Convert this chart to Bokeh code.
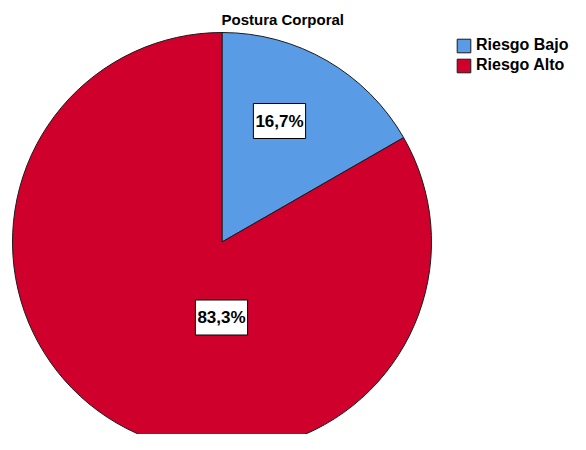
import math
import numpy as np
from bokeh.plotting import figure
from bokeh.models import Range1d, ColumnDataSource, Label, Legend, LegendItem
from bokeh.embed import file_html
from bokeh.resources import INLINE

# ---- data ----
categories = ["Riesgo Bajo", "Riesgo Alto"]
percentages = [16.7, 83.3]
label_texts = ["16,7%", "83,3%"]
colors = ["#5A9BE6", "#D0002C"]

# ---- layout (pixels) ----
W, H = 570, 434
TITLE_H = 30                # height of band above frame (holds the title)
R = 209.5                   # pie radius in px
CX, CY = 221.5, 241.5       # pie centre in figure px (from top-left)
FONT = "Liberation Sans"

frame_h = H - TITLE_H
top_dist = CY - TITLE_H
x_rng = Range1d(-CX, W - CX)
y_rng = Range1d(-(frame_h - top_dist), top_dist)

p = figure(width=W, height=H, x_range=x_rng, y_range=y_rng,
           output_backend="svg", toolbar_location=None,
           min_border=0, min_border_top=TITLE_H)
p.axis.visible = False
p.grid.visible = False
p.outline_line_color = None
p.background_fill_color = "white"
p.border_fill_color = "white"

p.title.text = "Postura Corporal"
p.title.align = "left"
p.title.vertical_align = "bottom"
p.title.offset = 221
p.title.text_font = FONT
p.title.text_font_size = "15px"
p.title.text_font_style = "bold"
p.title.text_color = "black"
p.title.standoff = 5

# wedges: start at 12 o'clock, clockwise
fr = np.array(percentages) / sum(percentages)
cum = np.concatenate([[0.0], np.cumsum(fr)])
a_from = math.pi / 2 - 2 * math.pi * cum[:-1]
a_to = math.pi / 2 - 2 * math.pi * cum[1:]
src = ColumnDataSource(dict(x=[0.0] * len(categories), y=[0.0] * len(categories),
                            start=a_to, end=a_from, color=colors, cat=categories))
r = p.wedge(x="x", y="y", radius=R, radius_units="data", start_angle="start", end_angle="end",
            fill_color="color", line_color="#1a1a1a", line_width=1, source=src)

# value labels (layout offsets relative to centre, px)
label_offsets = [(57.5, 121.0), (-0.5, -75.5)]
for (dx, dy), t in zip(label_offsets, label_texts):
    p.add_layout(Label(x=dx, y=dy, text=t, text_align="center", text_baseline="middle",
                       text_font=FONT, text_font_size="17px", text_font_style="bold",
                       text_color="black", background_fill_color="white",
                       border_line_color="black", border_line_width=1, padding=(2, 8)))

legend = Legend(items=[LegendItem(label=c, renderers=[r], index=i) for i, c in enumerate(categories)],
                location=(455, H - 74),
                orientation="vertical", padding=0, margin=0,
                border_line_alpha=0, background_fill_alpha=0,
                glyph_width=17, glyph_height=17, label_height=17, spacing=2,
                label_standoff=4, label_text_font=FONT, label_text_font_size="16px",
                label_text_font_style="bold", label_text_color="black")
p.add_layout(legend)

open("out.html", "w").write(file_html(p, INLINE))
